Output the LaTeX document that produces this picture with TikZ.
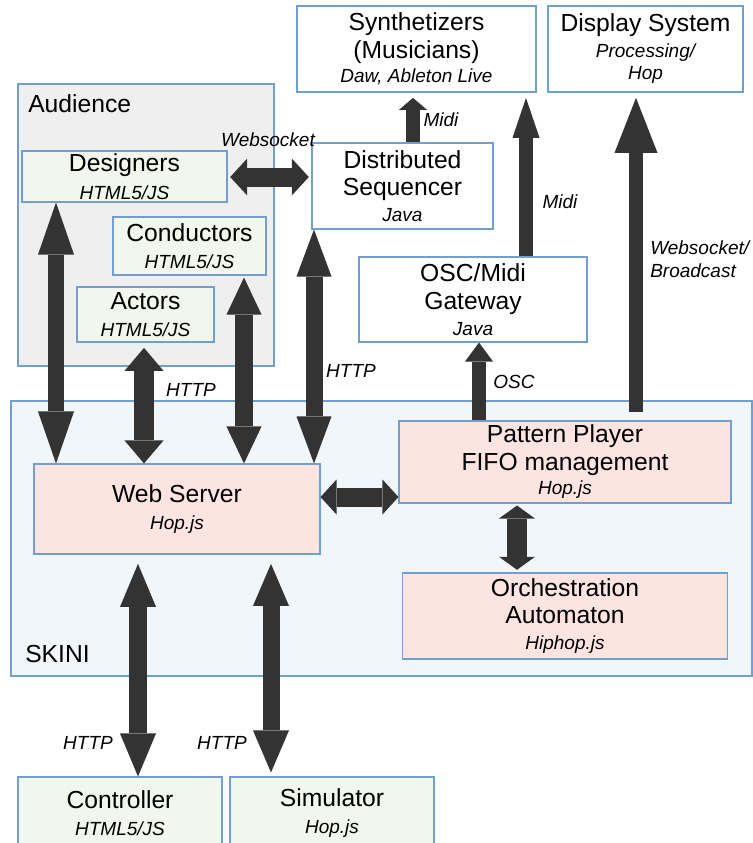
\documentclass[tikz,border=0pt]{standalone}
\usepackage{fontspec}
\setmainfont{Liberation Sans}
\usepackage{tikz}
\usetikzlibrary{positioning, arrows.meta}
\usepackage{xcolor}

\definecolor{boxline}{HTML}{729FCF}
\definecolor{audiencegrey}{HTML}{EFEFEF}
\definecolor{skiniblue}{HTML}{F1F6FB}
\definecolor{clientgreen}{HTML}{F1F7EC}
\definecolor{serverpink}{HTML}{FCE4E0}
\definecolor{arrowgrey}{HTML}{333333}

\newcommand{\mainsize}{\fontsize{18.5}{20.5}\selectfont}
\newcommand{\techfont}{\fontsize{14.25}{17}\selectfont\itshape}
\newcommand{\tech}[1]{{\techfont #1}}

\tikzset{
  dims/.style 2 args={minimum width=#1*0.75pt, minimum height=#2*0.75pt},
  dbl/.style n args={3}{draw=arrowgrey, line width=#1pt,
    {Triangle[width=#2pt, length=#3pt, line width=0pt]}-{Triangle[width=#2pt, length=#3pt, line width=0pt]}},
  one/.style n args={3}{draw=arrowgrey, line width=#1pt,
    -{Triangle[width=#2pt, length=#3pt, line width=0pt]}}
}

\begin{document}
\begin{tikzpicture}[x=0.75pt, y=-0.75pt]
        \tikzstyle{box} = [rectangle, draw=boxline, line width=0.8pt, fill=white,
          align=center, inner sep=0pt, font=\mainsize]
        \tikzstyle{lbl} = [inner sep=0pt, font=\techfont]

        \useasboundingbox (0,0) rectangle (753,843);

        % groups
        \node[box, fill=audiencegrey, dims={256}{282}] (audience) at (146,225) {};
        \node[anchor=west, inner sep=0pt, font=\mainsize] (audiencename) at (28,104) {Audience};
        \node[box, fill=skiniblue, dims={741}{275}] (skini) at (381.5,538.5) {};
        \node[anchor=west, inner sep=0pt, font=\mainsize] (skininame) at (25,654) {SKINI};

        % clients
        \node[box, fill=clientgreen, dims={205}{51}] (designers) at (124.5,176.5) {Designers\\\tech{HTML5/JS}};
        \node[box, fill=clientgreen, dims={153}{58}] (conductors) at (189.5,246) {Conductors\\\tech{HTML5/JS}};
        \node[box, fill=clientgreen, dims={137}{55}] (actors) at (145.5,314.5) {Actors\\\tech{HTML5/JS}};
        \node[box, fill=clientgreen, dims={204}{72}] (controller) at (120,813) {Controller\\\tech{HTML5/JS}};
        \node[box, fill=clientgreen, dims={204}{72}] (simulator) at (332,813) {Simulator\\\tech{Hop.js}};

        % outside world
        \node[box, dims={239}{86}] (synth) at (416.5,49) {Synthetizers\\(Musicians)\\[-2pt]\tech{Daw, Ableton Live}};
        \node[box, dims={195}{86}] (display) at (645.5,49) {Display System\\[-1pt]\tech{Processing/}\\[-4pt]\tech{Hop}};
        \node[box, dims={181}{86}] (sequencer) at (402.5,186) {Distributed\\Sequencer\\[-1pt]\tech{Java}};
        \node[box, dims={228}{85}] (gateway) at (473,299.5) {OSC/Midi\\Gateway\\[-1pt]\tech{Java}};

        % skini
        \node[box, fill=serverpink, dims={286}{90}] (webserver) at (177,509) {Web Server\\\tech{Hop.js}};
        \node[box, fill=serverpink, dims={332}{82}] (pattern) at (565,462) {Pattern Player\\FIFO management\\[-2pt]\tech{Hop.js}};
        \node[box, fill=serverpink, dims={325}{86}] (orchestration) at (565,616) {Orchestration\\Automaton\\[-1pt]\tech{Hiphop.js}};

        % links
        \draw[dbl={12}{27}{39}] (designers.south -| 56,0) -- (webserver.north -| 56,0);
        \draw[dbl={15}{29.25}{17.25}, shorten <=4pt] (actors.south -| 144,0) -- (webserver.north -| 144,0);
        \draw[dbl={13.5}{26.25}{27.75}, shorten <=1.5pt] (conductors.south -| 244,0) -- (webserver.north -| 244,0);
        \draw[dbl={12.75}{26.25}{35.25}] (sequencer.south -| 314,0) -- (webserver.north -| 314,0);
        \draw[dbl={14.25}{27.75}{12.75}, shorten <=2pt, shorten >=2pt] (designers.east |- 0,177) -- (sequencer.west |- 0,177);
        \draw[one={10.5}{21}{9}, shorten >=4pt] (sequencer.north -| 413,0) -- (synth.south -| 413,0);
        \draw[one={10.5}{20.25}{30}, shorten >=4pt] (gateway.north -| 526,0) -- (synth.south -| 526,0);
        \draw[one={10.5}{32.25}{41.25}, shorten <=6pt, shorten >=4pt] (pattern.north -| 636,0) -- (display.south -| 636,0);
        \draw[one={10.5}{21}{14.25}] (pattern.north -| 479,0) -- (gateway.south -| 479,0);
        \draw[dbl={14.25}{26.25}{12}] (webserver.east |- 0,497) -- (pattern.west |- 0,497);
        \draw[dbl={15}{27}{9.75}, shorten <=1.5pt, shorten >=2pt] (pattern.south -| 517,0) -- (orchestration.north -| 517,0);
        \draw[dbl={13.5}{27}{32.25}, shorten <=7pt] (webserver.south -| 138,0) -- (controller.north -| 138,0);
        \draw[dbl={12.75}{27}{31.5}, shorten <=7pt, shorten >=3pt] (webserver.south -| 271,0) -- (simulator.north -| 271,0);

        % link labels
        \node[lbl] (websocket) at (268,140) {Websocket};
        \node[lbl] (midisynth) at (441,120) {Midi};
        \node[lbl] (midigateway) at (560,202) {Midi};
        \node[lbl, anchor=west, align=left] (broadcast) at (650,259) {Websocket/\\Broadcast};
        \node[lbl] (osc) at (514,382) {OSC};
        \foreach \x/\y [count=\i] in {191/390, 351/371, 88/743, 222/743}
          \node[lbl] (http\i) at (\x,\y) {HTTP};
      \end{tikzpicture}
\end{document}
